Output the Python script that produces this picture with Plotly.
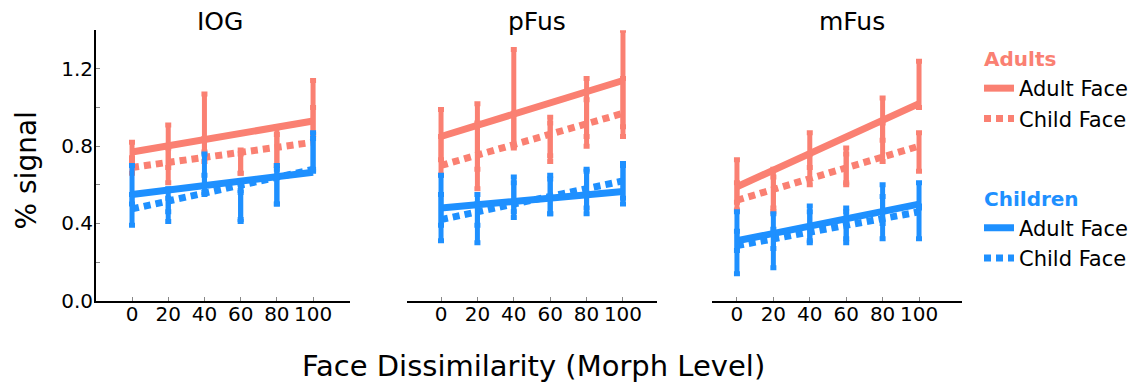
import plotly.graph_objects as go

SALMON = '#FA8072'
BLUE = '#1E90FF'
FONT = 'DejaVu Sans'

levels = [0, 20, 40, 60, 80, 100]
regions = ['IOG', 'pFus', 'mFus']
fit_x = [0, 100]

# Adults viewing adult faces
adults_adult_mean = {'IOG': [0.77, 0.80, 0.92, 0.72, 0.80, 1.00],
                     'pFus': [0.86, 0.85, 1.05, 0.85, 1.00, 1.15],
                     'mFus': [0.62, 0.58, 0.78, 0.70, 0.94, 1.12]}
adults_adult_err = {'IOG': [0.05, 0.11, 0.15, 0.06, 0.10, 0.14],
                    'pFus': [0.13, 0.17, 0.25, 0.10, 0.15, 0.25],
                    'mFus': [0.11, 0.10, 0.09, 0.09, 0.11, 0.12]}
# Adults viewing child faces
adults_child_mean = {'IOG': [0.70, 0.70, 0.78, 0.71, 0.78, 0.93],
                     'pFus': [0.75, 0.75, 0.88, 0.82, 0.92, 1.00],
                     'mFus': [0.54, 0.55, 0.68, 0.68, 0.82, 0.77]}
adults_child_err = {'IOG': [0.04, 0.09, 0.06, 0.05, 0.08, 0.07],
                    'pFus': [0.10, 0.17, 0.09, 0.10, 0.12, 0.15],
                    'mFus': [0.07, 0.09, 0.08, 0.08, 0.10, 0.10]}
# Children viewing adult faces
children_adult_mean = {'IOG': [0.60, 0.52, 0.66, 0.49, 0.60, 0.77],
                       'pFus': [0.52, 0.47, 0.55, 0.55, 0.58, 0.60],
                       'mFus': [0.36, 0.36, 0.40, 0.40, 0.50, 0.55]}
children_adult_err = {'IOG': [0.10, 0.06, 0.10, 0.08, 0.10, 0.10],
                      'pFus': [0.13, 0.08, 0.09, 0.10, 0.10, 0.10],
                      'mFus': [0.10, 0.09, 0.09, 0.08, 0.10, 0.06]}
# Children viewing child faces
children_child_mean = {'IOG': [0.47, 0.47, 0.60, 0.49, 0.59, 0.76],
                       'pFus': [0.43, 0.40, 0.52, 0.54, 0.56, 0.62],
                       'mFus': [0.25, 0.27, 0.38, 0.38, 0.43, 0.40]}
children_child_err = {'IOG': [0.08, 0.06, 0.05, 0.07, 0.09, 0.08],
                      'pFus': [0.12, 0.10, 0.09, 0.09, 0.11, 0.09],
                      'mFus': [0.11, 0.10, 0.08, 0.08, 0.11, 0.08]}

# Linear fit values at morph level 0 and 100
fit_adults_adult = {'IOG': [0.77, 0.93], 'pFus': [0.85, 1.14], 'mFus': [0.59, 1.02]}
fit_adults_child = {'IOG': [0.69, 0.82], 'pFus': [0.70, 0.97], 'mFus': [0.52, 0.80]}
fit_children_adult = {'IOG': [0.55, 0.665], 'pFus': [0.48, 0.565], 'mFus': [0.31, 0.50]}
fit_children_child = {'IOG': [0.475, 0.68], 'pFus': [0.42, 0.62], 'mFus': [0.285, 0.46]}

y_tickvals = [0.0, 0.2, 0.4, 0.6, 0.8, 1.0, 1.2]
y_ticktext = ['0.0', '', '0.4', '', '0.8', '', '1.2']
x_ticks = [0, 20, 40, 60, 80, 100]

# Page body has an 8px margin; the capture is also slightly squeezed vertically.
OFF = 8
SY = 0.967
W, H = 1138 - OFF, 379


def px_x(p):
    return (p - OFF) / W


def px_y(p):
    return 1 - (p / SY - OFF) / H


x_domains_px = [(96, 350), (407, 657), (712, 962)]
x_ranges = [(-19.9, 120.4), (-18.7, 118.7), (-13.7, 123.6)]
y_top_px, y_bot_px = 30, 300
title_x_px = [220, 537, 852]

fig = go.Figure()

DOT = '7px,5px'
groups = [
    ('adults', 'Adults', SALMON,
     [(fit_adults_adult, adults_adult_mean, adults_adult_err, 'solid', 'Adult Face'),
      (fit_adults_child, adults_child_mean, adults_child_err, DOT, 'Child Face')]),
    ('children', 'Children', BLUE,
     [(fit_children_adult, children_adult_mean, children_adult_err, 'solid', 'Adult Face'),
      (fit_children_child, children_child_mean, children_child_err, DOT, 'Child Face')]),
]

for i, reg in enumerate(regions):
    xa = 'x' if i == 0 else f'x{i+1}'
    ya = 'y' if i == 0 else f'y{i+1}'
    for gkey, gtitle, color, conds in groups:
        for fit, mean, err, dash, name in conds:
            fig.add_trace(go.Scatter(
                x=fit_x, y=fit[reg], mode='lines',
                line=dict(color=color, width=7, dash=dash),
                name=name, legendgroup=gkey,
                legendgrouptitle=dict(text=gtitle, font=dict(color=color, size=20, family=FONT, weight='bold')),
                showlegend=(i == 0), xaxis=xa, yaxis=ya, hoverinfo='skip'))
        for fit, mean, err, dash, name in conds:
            fig.add_trace(go.Scatter(
                x=levels, y=mean[reg], mode='markers',
                marker=dict(size=1, color=color, opacity=0),
                error_y=dict(type='data', array=err[reg], visible=True,
                             color=color, thickness=5, width=3),
                showlegend=False, xaxis=xa, yaxis=ya, hoverinfo='skip'))

layout = dict(
    width=W, height=H,
    margin=dict(l=0, r=0, t=0, b=0),
    paper_bgcolor='white', plot_bgcolor='white',
    font=dict(family=FONT, size=20, color='black'),
    showlegend=True,
    legend=dict(x=px_x(979), y=px_y(38.7), xanchor='left', yanchor='top',
                font=dict(size=21, family=FONT, color='black'),
                tracegroupgap=50, bgcolor='rgba(0,0,0,0)'),
)
for i in range(3):
    sx = '' if i == 0 else str(i + 1)
    d0, d1 = x_domains_px[i]
    layout['xaxis' + sx] = dict(
        domain=[px_x(d0), px_x(d1)], range=list(x_ranges[i]),
        tickvals=x_ticks, ticktext=[str(v) for v in x_ticks],
        showline=True, linecolor='black', linewidth=2,
        ticks='inside', ticklen=4, tickcolor='#888', tickwidth=1,
        ticklabelstandoff=-6,
        showgrid=False, zeroline=False,
        tickfont=dict(size=20, family=FONT, color='black'),
        anchor='y' + ('' if i == 0 else str(i + 1)), fixedrange=True)
    layout['yaxis' + sx] = dict(
        domain=[px_y(y_bot_px), px_y(y_top_px)], range=[0, 1.4],
        tickvals=y_tickvals, ticktext=y_ticktext,
        showline=(i == 0), linecolor='black', linewidth=2,
        ticks='inside' if i == 0 else '', ticklen=4, tickcolor='#888', tickwidth=1,
        ticklabelstandoff=-3,
        showticklabels=(i == 0), showgrid=False, zeroline=False,
        tickfont=dict(size=20, family=FONT, color='black'),
        anchor='x' + ('' if i == 0 else str(i + 1)), fixedrange=True)

annotations = []
for i, reg in enumerate(regions):
    annotations.append(dict(text=reg, x=px_x(title_x_px[i]), y=px_y(21.5),
                            xref='paper', yref='paper', showarrow=False,
                            xanchor='center', yanchor='middle',
                            font=dict(size=25, family=FONT, color='black')))
annotations.append(dict(text='% signal', x=px_x(26), y=px_y(170), textangle=-90,
                        xref='paper', yref='paper', showarrow=False,
                        xanchor='center', yanchor='middle',
                        font=dict(size=28, family=FONT, color='black')))
annotations.append(dict(text='Face Dissimilarity (Morph Level)', x=px_x(533), y=px_y(365),
                        xref='paper', yref='paper', showarrow=False,
                        xanchor='center', yanchor='middle',
                        font=dict(size=29, family=FONT, color='black')))
layout['annotations'] = annotations

fig.update_layout(**layout)
fig.write_html('out.html')
